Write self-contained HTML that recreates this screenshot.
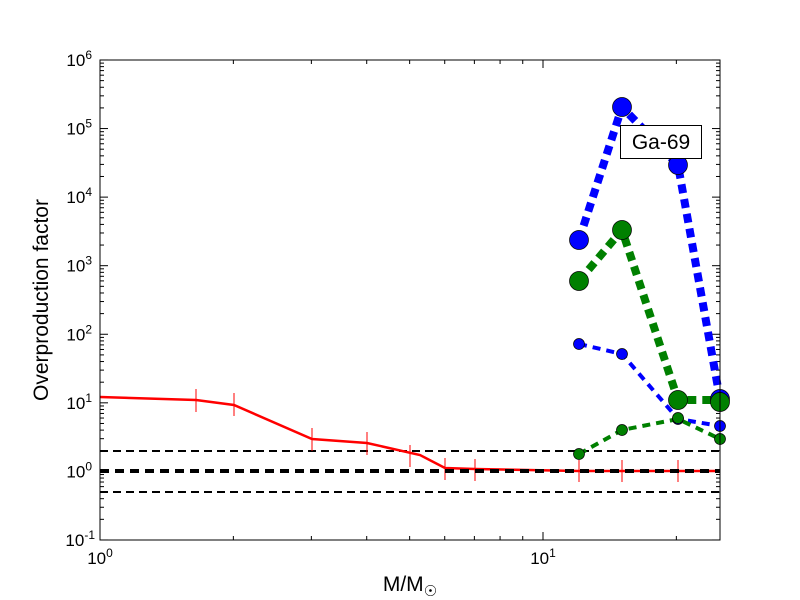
<!DOCTYPE html>
<html><head><meta charset="utf-8"><style>body{margin:0;background:#fff}svg{display:block}text{font-family:"Liberation Sans",sans-serif}</style></head>
<body>
<svg id="s" width="800" height="600" xmlns="http://www.w3.org/2000/svg">
<rect width="800" height="600" fill="#fff"/>
<g id="ticks" stroke="#000" stroke-width="1"></g>
<g fill="none">
<line x1="100" y1="451" x2="720" y2="451" stroke="#000" stroke-width="2" stroke-dasharray="8,5"/>
<line x1="100" y1="492" x2="720" y2="492" stroke="#000" stroke-width="2" stroke-dasharray="8,5"/>
<polyline points="100,397 196,400 234,405 312,439 367,443 420,455 445,468 475,469 579,471 622,471 678,471 720,471" stroke="#f00" stroke-width="2.5"/>
<g stroke="#f00" stroke-width="1">
<line x1="196" y1="389" x2="196" y2="412"/><line x1="234" y1="393" x2="234" y2="416"/>
<line x1="312" y1="428" x2="312" y2="451"/><line x1="367" y1="432" x2="367" y2="455"/>
<line x1="410" y1="445" x2="410" y2="467"/><line x1="445" y1="458" x2="445" y2="480"/>
<line x1="475" y1="459" x2="475" y2="481"/><line x1="579" y1="460" x2="579" y2="482"/>
<line x1="622" y1="460" x2="622" y2="482"/><line x1="678" y1="460" x2="678" y2="482"/>
</g>
<line x1="100" y1="471" x2="720" y2="471" stroke="#000" stroke-width="4" stroke-dasharray="9,6"/>
<polyline points="579,240 622,107 678,165 720,399" stroke="#00f" stroke-width="8" stroke-dasharray="9,6"/>
<polyline points="579,281 622,230 678,400 720,400" stroke="#008000" stroke-width="8" stroke-dasharray="9,6"/>
<polyline points="579,344 622,354 678,419 720,426" stroke="#00f" stroke-width="4" stroke-dasharray="8,6"/>
<polyline points="579,454 622,430 678,419 720,439" stroke="#008000" stroke-width="4" stroke-dasharray="8,6"/>
</g>
<g stroke="#000" stroke-width="0.7">
<circle cx="579" cy="240" r="9.5" fill="#00f"/><circle cx="622" cy="107" r="9.5" fill="#00f"/><circle cx="678" cy="165" r="9.5" fill="#00f"/><circle cx="720" cy="399" r="9.5" fill="#00f"/>
<circle cx="579" cy="281" r="9.5" fill="#008000"/><circle cx="622" cy="230" r="9.5" fill="#008000"/><circle cx="678" cy="400" r="9.5" fill="#008000"/><circle cx="720" cy="402" r="9.5" fill="#008000"/>
<circle cx="579" cy="344" r="5.5" fill="#00f"/><circle cx="622" cy="354" r="5.5" fill="#00f"/><circle cx="678" cy="419" r="5.5" fill="#00f"/><circle cx="720" cy="426" r="5.5" fill="#00f"/>
<circle cx="579" cy="454" r="5.5" fill="#008000"/><circle cx="622" cy="430" r="5.5" fill="#008000"/><circle cx="678" cy="418" r="5.5" fill="#008000"/><circle cx="720" cy="439" r="5.5" fill="#008000"/>
</g>
<rect x="620.5" y="125.5" width="81" height="33" fill="#fff" stroke="#000" stroke-width="1"/>
<text x="661" y="149" font-size="21" text-anchor="middle">Ga-69</text>
<rect x="100" y="60" width="620" height="480" fill="none" stroke="#000" stroke-width="1"/>
<g font-size="17" text-anchor="end" id="yl"></g>
<text x="100" y="564" font-size="17" text-anchor="middle">10<tspan dy="-7" font-size="12">0</tspan></text>
<text x="543" y="564" font-size="17" text-anchor="middle">10<tspan dy="-7" font-size="12">1</tspan></text>
<text x="410" y="591" font-size="21" text-anchor="middle">M/M<tspan dy="5" font-size="15">☉</tspan></text>
<text transform="translate(48,300) rotate(-90)" font-size="21" text-anchor="middle">Overproduction factor</text>
</svg>
<script>
var N="http://www.w3.org/2000/svg",t=document.getElementById('ticks'),yl=document.getElementById('yl');
function L(a,b,c,d){var l=document.createElementNS(N,'line');l.setAttribute('x1',a);l.setAttribute('y1',b);l.setAttribute('x2',c);l.setAttribute('y2',d);t.appendChild(l);}
function X(v){return 100+443*Math.log10(v);}
function Y(v){return 471.4-68.57*Math.log10(v);}
for(var d=0;d<2;d++)for(var k=1;k<10;k++){var v=k*Math.pow(10,d);if(v>25)break;var x=X(v),s=k==1?8:4;L(x,540,x,540-s);L(x,60,x,60+s);}
for(var e=-1;e<=6;e++){for(var k=1;k<10;k++){var v=k*Math.pow(10,e);if(e==6&&k>1)break;var y=Y(v),s=k==1?8:4;L(100,y,100+s,y);L(720,y,720-s,y);}
var tx=document.createElementNS(N,'text');tx.setAttribute('x',e<0?95:92);tx.setAttribute('y',Y(Math.pow(10,e))+6);tx.innerHTML='10<tspan dy="-7" font-size="12">'+e+'</tspan>';yl.appendChild(tx);}
</script>
</body></html>
